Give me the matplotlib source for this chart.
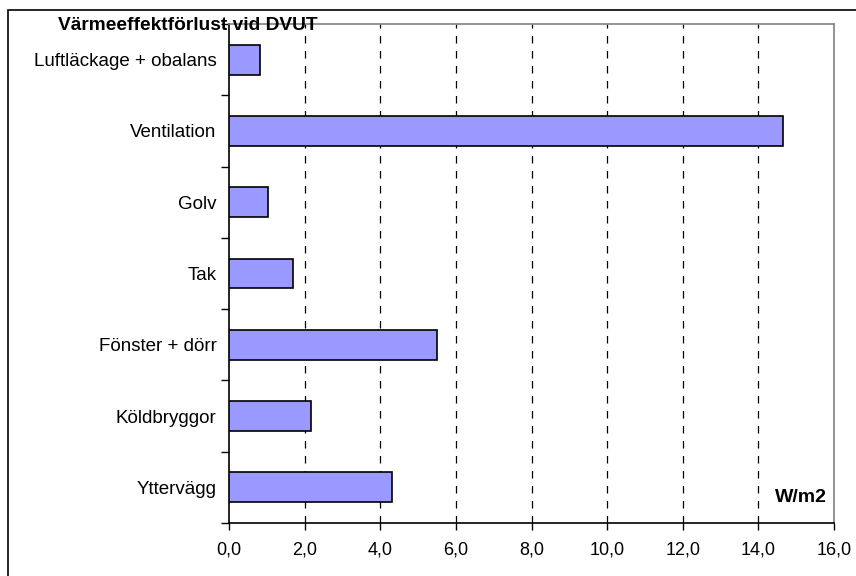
import matplotlib
matplotlib.use('Agg')
import matplotlib.pyplot as plt
from matplotlib.patches import Rectangle
import numpy as np

# Data - kategorier nerifrån och upp
kategorier = ['Yttervägg', 'Köldbryggor', 'Fönster + dörr', 'Tak', 'Golv',
              'Ventilation', 'Luftläckage + obalans']
varden = [4.3, 2.16, 5.5, 1.68, 1.02, 14.65, 0.82]
x_ticks = [0, 2, 4, 6, 8, 10, 12, 14, 16]
x_labels = ['0,0', '2,0', '4,0', '6,0', '8,0', '10,0', '12,0', '14,0', '16,0']

plt.rcParams['font.family'] = ['Liberation Sans', 'DejaVu Sans']

fig = plt.figure(figsize=(8.56, 5.76), dpi=100)
ax = fig.add_axes([229 / 856, 1 - 523 / 576, (834 - 229) / 856, (523 - 24) / 576])

y = np.arange(len(kategorier))
ax.barh(y, varden, height=0.42, color='#9999FF', edgecolor='black', linewidth=1.2, zorder=3)

ax.set_xlim(0, 16)
ax.set_ylim(-0.5, len(kategorier) - 0.5)

# x-axel
ax.set_xticks(x_ticks)
ax.set_xticklabels(x_labels, fontsize=13)
ax.tick_params(axis='x', direction='out', length=5, width=1, pad=8)

# y-axel: etiketter i mitten, streck mellan kategorier
ax.set_yticks(y)
ax.set_yticklabels(kategorier, fontsize=13.5)
ax.tick_params(axis='y', which='major', length=0, pad=9)
ax.set_yticks(np.arange(-0.5, len(kategorier), 1.0), minor=True)
ax.tick_params(axis='y', which='minor', direction='out', length=6, width=1)

# stödlinjer
for gx in x_ticks[1:-1]:
    ax.axvline(gx, color='black', linestyle=(0, (6, 6)), linewidth=0.9, zorder=1)

ax.spines['left'].set_color('black')
ax.spines['bottom'].set_color('black')
ax.spines['top'].set_color('#808080')
ax.spines['right'].set_color('#808080')
for s in ax.spines.values():
    s.set_linewidth(1.2)

ax.text(0.988, 0.035, 'W/m2', transform=ax.transAxes, ha='right', va='bottom',
        fontsize=14, fontweight='bold')

fig.text(58 / 856, 1 - 26 / 576, 'Värmeeffektförlust vid DVUT', ha='left', va='center',
         fontsize=13.8, fontweight='bold')

# yttre ram
fig.patches.append(Rectangle((8 / 856, -0.1), 1.2, 1.1 - 10 / 576, transform=fig.transFigure,
                             fill=False, edgecolor='black', linewidth=1.2))

fig.savefig('out.png', dpi=100)
plt.close(fig)
